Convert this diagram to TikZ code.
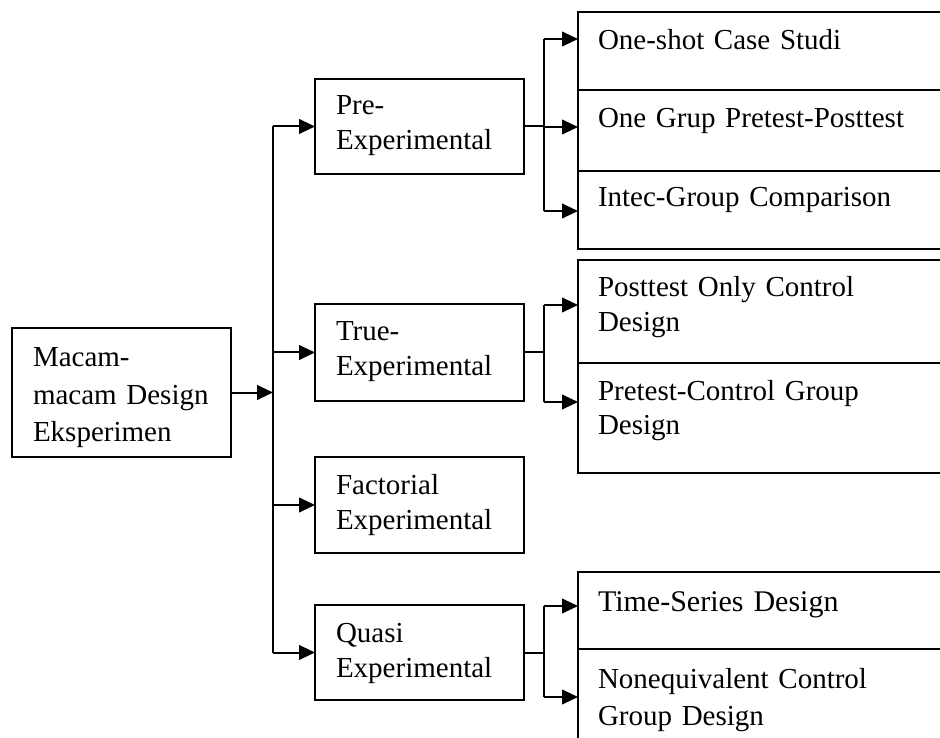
\documentclass[tikz,border=0pt]{standalone}
\usepackage{fontspec}
\setmainfont{Liberation Serif}
\usetikzlibrary{arrows.meta,fit}
\begin{document}
\begin{tikzpicture}[x=0.75pt,y=-0.75pt,
  box/.style={draw=black,line width=1.5pt,inner sep=0pt,outer sep=0pt},
  txt/.style={anchor=base west,inner sep=0pt,outer sep=0pt,align=left,text width=300pt,
    font=\fontsize{21.75pt}{26.25pt}\selectfont},
  ln/.style={line width=1.5pt},
  arr/.style={line width=1.5pt,-{Triangle[length=12pt,width=11pt]}}]
\useasboundingbox (0,0) rectangle (940,738);
\clip (0,0) rectangle (940,738);
% left box
\node[box,fit={(12,328)(231,457)}] (L) {};
\node[txt,font=\fontsize{21.75pt}{28.5pt}\selectfont] (Lt) at (33,366) {Macam-\\macam Design\\Eksperimen};
% middle boxes
\node[box,fit={(315,79)(524,174)}] (Pre) {};
\node[txt] (Pret) at (336,115) {Pre-\\Experimental};
\node[box,fit={(315,304)(524,401)}] (True) {};
\node[txt] (Truet) at (336,340) {True-\\Experimental};
\node[box,fit={(315,457)(524,553)}] (Fac) {};
\node[txt] (Fact) at (336,494) {Factorial\\Experimental};
\node[box,fit={(315,605)(524,700)}] (Qua) {};
\node[txt] (Quat) at (336,642) {Quasi\\Experimental};
% right group 1
\node[box,fit={(578,12)(960,90)}] (A1) {};
\node[box,fit={(578,90)(960,171)}] (A2) {};
\node[box,fit={(578,171)(960,249)}] (A3) {};
\node[txt] (A1t) at (598,50) {One-shot Case Studi};
\node[txt] (A2t) at (598,128) {One Grup Pretest-Posttest};
\node[txt] (A3t) at (598,207) {Intec-Group Comparison};
% right group 2
\node[box,fit={(578,260)(960,363)}] (B1) {};
\node[box,fit={(578,363)(960,473)}] (B2) {};
\node[txt,font=\fontsize{21.75pt}{25.5pt}\selectfont] (B1t) at (598,297) {Posttest Only Control\\Design};
\node[txt,font=\fontsize{21.75pt}{25.5pt}\selectfont] (B2t) at (598,400) {Pretest-Control Group\\Design};
% right group 3
\node[box,fit={(578,572)(960,649)}] (C1) {};
\node[box,fit={(578,649)(960,760)}] (C2) {};
\node[txt,font=\fontsize{22.5pt}{28.3pt}\selectfont] (C1t) at (598,611) {Time-Series Design};
\node[txt,font=\fontsize{21.75pt}{28.3pt}\selectfont] (C2t) at (598,688) {Nonequivalent Control\\Group Design};
% trunk
\coordinate (T) at (273,393);
\draw[arr] (L.east) -- (L.east -| T);
\draw[ln] (Pre.west -| T) -- (Qua.west -| T);
\foreach \n in {Pre,True,Fac,Qua} \draw[arr] (\n.west -| T) -- (\n.west);
% branch 1
\coordinate (a1) at (544,39);
\coordinate (a2) at (544,127);
\coordinate (a3) at (544,211);
\draw[ln] (Pre.east) -- (Pre.east -| a1);
\draw[ln] (a1) -- (a3);
\draw[arr] (a1) -- (a1 -| A1.west);
\draw[arr] (a2) -- (a2 -| A2.west);
\draw[arr] (a3) -- (a3 -| A3.west);
% branch 2
\coordinate (b1) at (544,305);
\coordinate (b2) at (544,402);
\draw[ln] (True.east) -- (True.east -| b1);
\draw[ln] (b1) -- (b2);
\draw[arr] (b1) -- (b1 -| B1.west);
\draw[arr] (b2) -- (b2 -| B2.west);
% branch 3
\coordinate (c1) at (544,606);
\coordinate (c2) at (544,697);
\draw[ln] (Qua.east) -- (Qua.east -| c1);
\draw[ln] (c1) -- (c2);
\draw[arr] (c1) -- (c1 -| C1.west);
\draw[arr] (c2) -- (c2 -| C2.west);
\end{tikzpicture}
\end{document}
